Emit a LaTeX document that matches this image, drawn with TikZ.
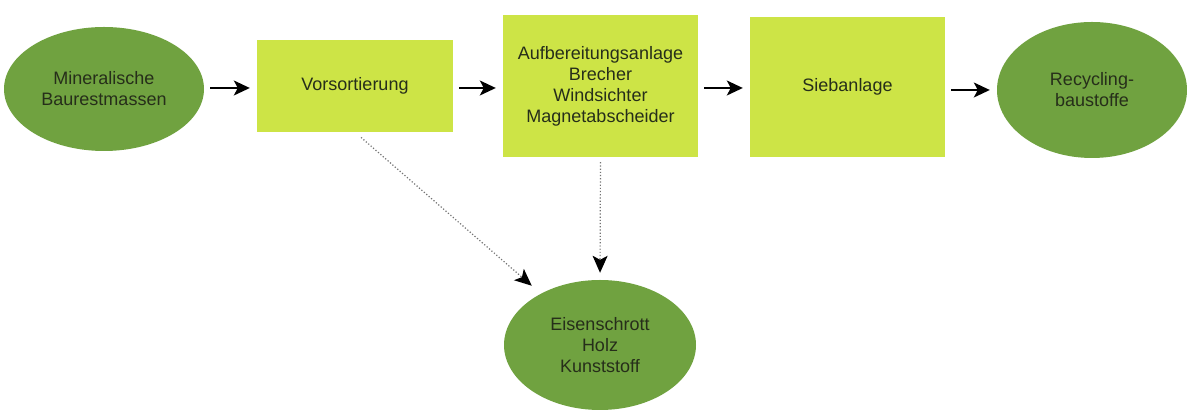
\documentclass[tikz,border=0pt]{standalone}
\usepackage{fontspec}
\setmainfont{Liberation Sans}
\usetikzlibrary{shapes.geometric,arrows.meta}
\definecolor{boxfill}{RGB}{205,228,70}
\definecolor{ovalfill}{RGB}{112,162,64}
\definecolor{ink}{RGB}{38,46,26}
\begin{document}
\begin{tikzpicture}[x=1pt,y=1pt,
  txt/.style={font=\fontsize{18}{21}\selectfont, text=ink, align=center},
  stage/.style={txt, rectangle, fill=boxfill, inner sep=0pt},
  product/.style={txt, ellipse, fill=ovalfill, inner sep=0pt},
  flow/.style={line width=1.6pt, -{Stealth[length=16pt,width=15pt,inset=4pt]}, shorten <=6pt, shorten >=7pt},
  sidestream/.style={line width=1.2pt, black!55, dotted, -{Stealth[length=17pt,width=15pt,inset=4pt,black]}}
]
\useasboundingbox (0,0) rectangle (1187,411);
\fill[white] (0,0) rectangle (1187,411);

% main process line
\node[product, minimum width=200pt, minimum height=124pt] (mineral) at (104,322) {Mineralische\\Baurestmassen};
\node[stage, minimum width=196pt, minimum height=92pt] (vorsort) at (355,325) {Vorsortierung};
\node[stage, minimum width=195pt, minimum height=142pt] (aufber) at (600.5,325) {Aufbereitungsanlage\\Brecher\\Windsichter\\Magnetabscheider};
\node[stage, minimum width=195pt, minimum height=140pt] (sieb) at (847.5,324) {Siebanlage};
\node[product, minimum width=190pt, minimum height=136pt] (recyc) at (1092,321) {Recycling-\\baustoffe};

% separated fractions
\node[product, minimum width=192pt, minimum height=130pt] (fract) at (600,66) {Eisenschrott\\Holz\\Kunststoff};

\draw[flow] (mineral.east |- 0,323) -- (vorsort.west |- 0,323);
\draw[flow] (vorsort.east |- 0,323) -- (aufber.west |- 0,323);
\draw[flow] (aufber.east |- 0,323) -- (sieb.west |- 0,323);
\draw[flow] (sieb.east |- 0,321) -- (recyc.west |- 0,321);

\draw[sidestream, shorten <=8pt, shorten >=12pt] (vorsort.south) -- (fract);
\draw[sidestream, shorten <=5pt, shorten >=7pt] (aufber.south) -- (fract.north);
\end{tikzpicture}
\end{document}
